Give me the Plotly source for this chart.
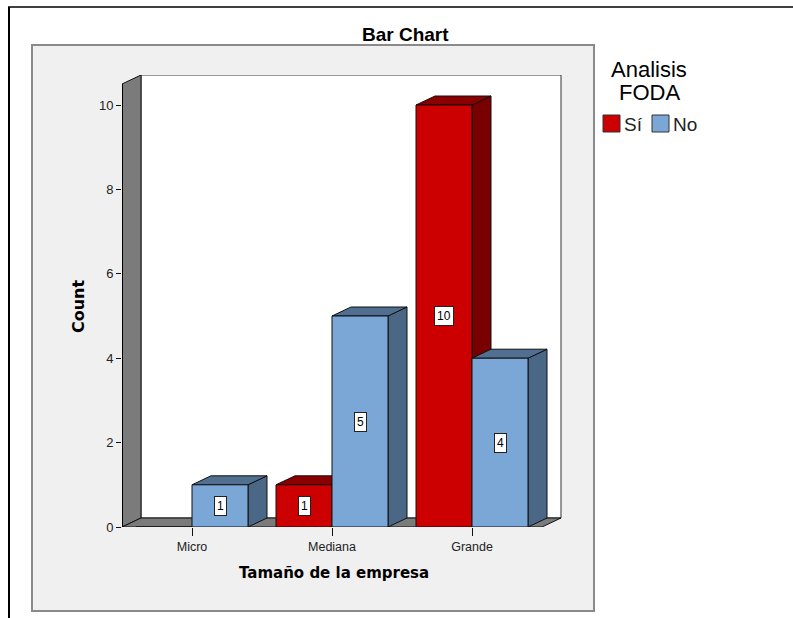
import plotly.graph_objects as go

# Data
categorias = ["Micro", "Mediana", "Grande"]
serie_si = [0, 1, 10]
serie_no = [1, 5, 4]
y_ticks = [0, 2, 4, 6, 8, 10]
leyenda = ["Sí", "No"]

# Figure geometry (pixels)
W, H = 793, 618
PL, PR, PT, PB = 122, 562, 75, 527          # plot area edges
PX_X = 140.0                                 # pixels per category step
PX_Y = 42.2                                  # pixels per count unit
DEPTH_X, DEPTH_Y = 19, 9                     # 3D depth offset in pixels

x_lo = -0.5
x_hi = x_lo + (PR - PL) / PX_X
y_hi = (PB - PT) / PX_Y
dx = DEPTH_X / PX_X
dy = DEPTH_Y / PX_Y
bar_w = 0.4

# Colours
SI_FRONT, SI_TOP, SI_SIDE = "#cc0000", "#8a0000", "#780000"
NO_FRONT, NO_TOP, NO_SIDE = "#7ba7d7", "#516f91", "#4a6886"
WALL = "#7b7b7b"
PANEL = "#f0f0f0"
FONT = "Liberation Sans, Arial, sans-serif"
FONT_B = "DejaVu Sans, Verdana, sans-serif"


def xp(px):
    return (px - PL) / (PR - PL)


def yp(py):
    return (PB - py) / (PB - PT)


def poly(points):
    return "M " + " L ".join(f"{a},{b}" for a, b in points) + " Z"


shapes = []
# outer frame and grey panel
shapes.append(dict(type="line", xref="paper", yref="paper", x0=xp(9), x1=xp(9), y0=yp(7), y1=yp(H),
                   line=dict(color="black", width=2), layer="below"))
shapes.append(dict(type="line", xref="paper", yref="paper", x0=xp(8), x1=xp(W), y0=yp(7), y1=yp(7),
                   line=dict(color="black", width=1.5), layer="below"))
shapes.append(dict(type="rect", xref="paper", yref="paper", x0=xp(32), x1=xp(594), y0=yp(611), y1=yp(45),
                   fillcolor=PANEL, line=dict(color="#8a8a8a", width=2), layer="below"))

# back wall, side wall and floor
shapes.append(dict(type="rect", xref="x", yref="y", x0=x_lo + dx, x1=2.5 + dx, y0=dy, y1=y_hi,
                   fillcolor="white", line=dict(color="#333", width=1), layer="below"))
shapes.append(dict(type="path", xref="x", yref="y",
                   path=poly([(x_lo, 0), (x_lo, y_hi - dy), (x_lo + dx, y_hi), (x_lo + dx, dy)]),
                   fillcolor=WALL, line=dict(color="#111", width=1), layer="below"))
shapes.append(dict(type="path", xref="x", yref="y",
                   path=poly([(x_lo, 0), (2.5, 0), (2.5 + dx, dy), (x_lo + dx, dy)]),
                   fillcolor=WALL, line=dict(color="#111", width=1), layer="below"))
shapes.append(dict(type="line", xref="x", yref="y", x0=x_lo, x1=x_lo, y0=0, y1=y_hi - dy,
                   line=dict(color="black", width=2), layer="below"))

# 3D top and side faces of every bar
series = [(serie_si, -bar_w / 2, SI_TOP, SI_SIDE), (serie_no, bar_w / 2, NO_TOP, NO_SIDE)]
for i in range(len(categorias)):
    for vals, off, top_c, side_c in series:
        h = vals[i]
        if h <= 0:
            continue
        x0 = i + off - bar_w / 2
        x1 = i + off + bar_w / 2
        shapes.append(dict(type="path", xref="x", yref="y",
                           path=poly([(x1, 0), (x1, h), (x1 + dx, h + dy), (x1 + dx, dy)]),
                           fillcolor=side_c, line=dict(color="#111", width=1), layer="below"))
        shapes.append(dict(type="path", xref="x", yref="y",
                           path=poly([(x0, h), (x1, h), (x1 + dx, h + dy), (x0 + dx, h + dy)]),
                           fillcolor=top_c, line=dict(color="#111", width=1), layer="below"))

# legend swatches
shapes.append(dict(type="rect", xref="paper", yref="paper", x0=xp(603), x1=xp(620), y0=yp(132), y1=yp(115),
                   fillcolor=SI_FRONT, line=dict(color="#333", width=1)))
shapes.append(dict(type="rect", xref="paper", yref="paper", x0=xp(652), x1=xp(669), y0=yp(132), y1=yp(115),
                   fillcolor=NO_FRONT, line=dict(color="#333", width=1)))

fig = go.Figure()
for vals, off, col, name in [(serie_si, -bar_w / 2, SI_FRONT, leyenda[0]),
                             (serie_no, bar_w / 2, NO_FRONT, leyenda[1])]:
    fig.add_trace(go.Bar(
        x=[i + off for i in range(len(categorias))], y=vals, width=bar_w, name=name,
        marker=dict(color=col, line=dict(color="#111", width=1)),
        showlegend=False, hoverinfo="skip"))

annotations = []
# value labels in white boxes
for vals, off in [(serie_si, -bar_w / 2), (serie_no, bar_w / 2)]:
    for i, v in enumerate(vals):
        if v > 0:
            annotations.append(dict(x=i + off, y=v / 2, xref="x", yref="y", text=str(v), showarrow=False,
                                    font=dict(family=FONT, size=12, color="black"), bgcolor="white",
                                    bordercolor="#222", borderwidth=1, borderpad=2))

annotations += [
    dict(x=xp(405), y=yp(34), xref="paper", yref="paper", text="<b>Bar Chart</b>", showarrow=False,
         font=dict(family=FONT, size=19, color="black"), xanchor="center", yanchor="middle"),
    dict(x=xp(78), y=yp(306), xref="paper", yref="paper", text="<b>Count</b>", showarrow=False, textangle=-90,
         font=dict(family=FONT_B, size=16, color="black"), xanchor="center", yanchor="middle"),
    dict(x=xp(334), y=yp(573), xref="paper", yref="paper", text="<b>Tamaño de la empresa</b>", showarrow=False,
         font=dict(family=FONT_B, size=15, color="black"), xanchor="center", yanchor="middle"),
    dict(x=xp(649), y=yp(69), xref="paper", yref="paper", text="Analisis", showarrow=False,
         font=dict(family=FONT, size=22, color="black"), xanchor="center", yanchor="middle"),
    dict(x=xp(649), y=yp(93), xref="paper", yref="paper", text="FODA", showarrow=False,
         font=dict(family=FONT, size=22, color="black"), xanchor="center", yanchor="middle"),
    dict(x=xp(622), y=yp(125), xref="paper", yref="paper", text=leyenda[0], showarrow=False,
         font=dict(family=FONT, size=19, color="#222"), xanchor="left", yanchor="middle"),
    dict(x=xp(671), y=yp(125), xref="paper", yref="paper", text=leyenda[1], showarrow=False,
         font=dict(family=FONT, size=19, color="#222"), xanchor="left", yanchor="middle"),
]

fig.update_layout(
    width=W, height=H,
    margin=dict(l=PL, r=W - PR, t=PT, b=H - PB, pad=0),
    paper_bgcolor="white", plot_bgcolor="rgba(0,0,0,0)",
    barmode="overlay", hovermode=False,
    shapes=shapes, annotations=annotations,
    xaxis=dict(range=[x_lo, x_hi], showgrid=False, zeroline=False, showline=False,
               tickvals=list(range(len(categorias))), ticktext=categorias,
               ticks="outside", ticklen=8, tickwidth=1, tickcolor="#111",
               tickfont=dict(family=FONT, size=12.5, color="#222")),
    yaxis=dict(range=[0, y_hi], showgrid=False, zeroline=False, showline=False,
               tickvals=y_ticks, ticks="outside", ticklen=5, tickwidth=1, tickcolor="#111",
               tickfont=dict(family=FONT, size=13, color="#222")),
)

fig.write_html("out.html")
